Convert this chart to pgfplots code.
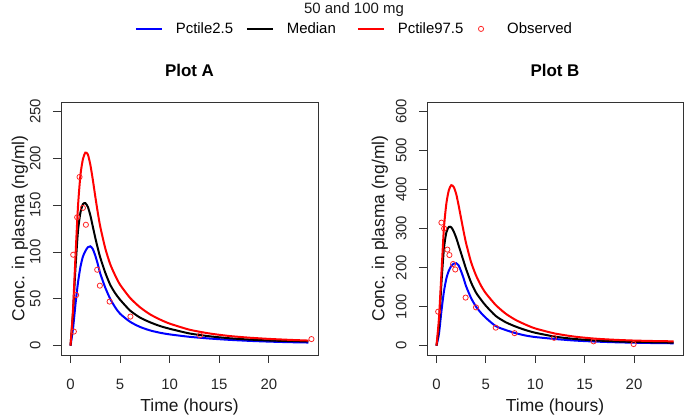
\documentclass[border=0pt]{standalone}
\usepackage{fontspec}
\setmainfont{Liberation Sans}
\usepackage{pgfplots}
\pgfplotsset{compat=1.18}
\pgfplotsset{
  pk/.style={
    scale only axis, width=257bp, height=253bp,
    xmin=-0.96, xmax=24.96,
    xtick={0,5,10,15,20},
    tick align=outside, major tick length=8bp, tick pos=left,
    axis line style={black!80, line width=0.8bp},
    every tick/.style={black!80, line width=0.8bp},
    ticklabel style={font=\fontsize{15}{17}\selectfont, text=black!85},
    /pgf/number format/assume math mode=true,
    xticklabel shift=12.5bp,
    yticklabel style={rotate=90, anchor=south},
    yticklabel shift=9bp,
    xlabel={Time (hours)},
    ylabel={Conc. in plasma (ng/ml)},
    label style={font=\fontsize{17.5}{20}\selectfont, text=black!90},
    xlabel style={at={(axis description cs:0.5,-0.205)}, anchor=center},
    title style={font=\bfseries\fontsize{17}{20}\selectfont, at={(axis description cs:0.5,1.10)}, anchor=center},
    legend image code/.code={\draw[##1] (0bp,0bp) -- (26bp,0bp);},
  },
  obs/.style={only marks, mark=o, mark size=2.6bp, red!85, mark options={line width=0.8bp},
    legend image code/.code={\path (0bp,0bp) (26bp,0bp); \draw[##1] plot coordinates {(13bp,0bp)};}},
}
\begin{document}
\begin{tikzpicture}
\useasboundingbox (0bp,0bp) rectangle (685bp,417bp);
\begin{axis}[pk, at={(61bp,62bp)}, anchor=south west,
  ymin=-10, ymax=260, ytick={0,50,100,150,200,250},
  ylabel style={at={(axis description cs:-0.16,0.5)}, anchor=center},
  title={Plot A},
  legend style={at={(axis description cs:1.148,1.289)}, anchor=center, draw=none, fill=none,
    legend columns=4, font=\fontsize{15}{17}\selectfont,
    nodes={inner xsep=0bp, inner ysep=1bp, text width=70bp, align=left},
    /tikz/every odd column/.append style={column sep=13bp}},
  legend cell align=left]
\addplot[blue, line width=2bp, smooth, tension=0.4] coordinates {(0,0)(0.25,18)(0.5,44)(0.75,67)(1,84)(1.25,95)(1.5,101)(1.75,105)(2,106)(2.25,103)(2.5,96)(2.75,87)(3,77)(3.5,62)(4,50)(4.5,41)(5,34)(6,25.5)(7,20)(8,16.3)(9,13.8)(10,12)(12,9.4)(14,7.6)(16,6.2)(18,5.1)(20,4.3)(22,3.7)(24,3.3)};
\addlegendentry{Pctile2.5}
\addplot[black, line width=2bp, smooth, tension=0.4] coordinates {(0,0)(0.25,35)(0.5,83)(0.75,122)(1,142)(1.25,151)(1.5,152)(1.75,148)(2,139)(2.25,127)(2.5,115)(2.75,104)(3,94)(3.5,78)(4,65)(4.5,56)(5,49)(6,37.5)(7,30)(8,25)(9,21)(10,18)(12,13)(14,10)(16,7.9)(18,6.5)(20,5.5)(22,4.9)(24,4.5)};
\addlegendentry{Median}
\addplot[red, line width=2bp, smooth, tension=0.4] coordinates {(0,0)(0.25,38)(0.5,95)(0.75,148)(1,182)(1.25,199)(1.5,206)(1.75,204)(2,193)(2.25,177)(2.5,159)(2.75,142)(3,127)(3.5,104)(4,87)(4.5,75)(5,65)(6,51)(7,41)(8,33.5)(9,28)(10,23.5)(12,17)(14,13)(16,10.3)(18,8.5)(20,7.2)(22,6.2)(24,5.4)};
\addlegendentry{Pctile97.5}
\addplot[obs] coordinates {(0.27,97)(0.34,15)(0.57,54)(0.67,137)(0.91,180)(1.25,147)(1.55,129)(2.69,81)(2.96,64)(3.94,47)(6.04,31)(13.06,11)(24.3,7)};
\addlegendentry{Observed}
\end{axis}
\begin{axis}[pk, at={(427bp,62bp)}, anchor=south west, width=256bp,
  ymin=-24, ymax=624, ytick={0,100,200,300,400,500,600},
  ylabel style={at={(axis description cs:-0.184,0.5)}, anchor=center},
  title={Plot B}]
\addplot[blue, line width=2bp, smooth, tension=0.4] coordinates {(0,0)(0.25,30)(0.5,88)(0.75,138)(1,172)(1.25,192)(1.5,204)(1.75,210)(2,211)(2.25,205)(2.5,190)(2.75,172)(3,152)(3.5,122)(4,100)(4.5,84)(5,71)(6,50)(7,40)(8,32)(9,26)(10,22)(12,17)(14,13)(16,10.5)(18,8.7)(20,7.5)(22,6.6)(24,6)};
\addplot[black, line width=2bp, smooth, tension=0.4] coordinates {(0,0)(0.25,50)(0.5,160)(0.75,248)(1,290)(1.25,304)(1.5,303)(1.75,292)(2,276)(2.25,256)(2.5,236)(2.75,216)(3,196)(3.5,162)(4,136)(4.5,118)(5,102)(6,76)(7,60)(8,49)(9,40)(10,33)(12,23)(14,17)(16,13.5)(18,11)(20,9.5)(22,8.5)(24,7.8)};
\addplot[red, line width=2bp, smooth, tension=0.4] coordinates {(0,0)(0.25,70)(0.5,185)(0.75,300)(1,364)(1.25,398)(1.5,411)(1.75,406)(2,388)(2.25,358)(2.5,325)(2.75,292)(3,262)(3.5,214)(4,180)(4.5,154)(5,134)(6,104)(7,82)(8,66)(9,54)(10,44)(12,31)(14,23)(16,18)(18,15)(20,13)(22,11.8)(24,11)};
\addplot[obs] coordinates {(0.17,87)(0.5,315)(0.77,300)(1.1,246)(1.31,232)(1.68,209)(1.9,195)(2.95,123)(4.0,98)(6.0,46)(7.9,32)(11.9,20)(15.9,11)(19.96,4)};
\end{axis}
\node[font=\fontsize{15}{17}\selectfont, text=black!90] at (354bp,407.5bp) {50 and 100 mg};
\end{tikzpicture}
\end{document}
